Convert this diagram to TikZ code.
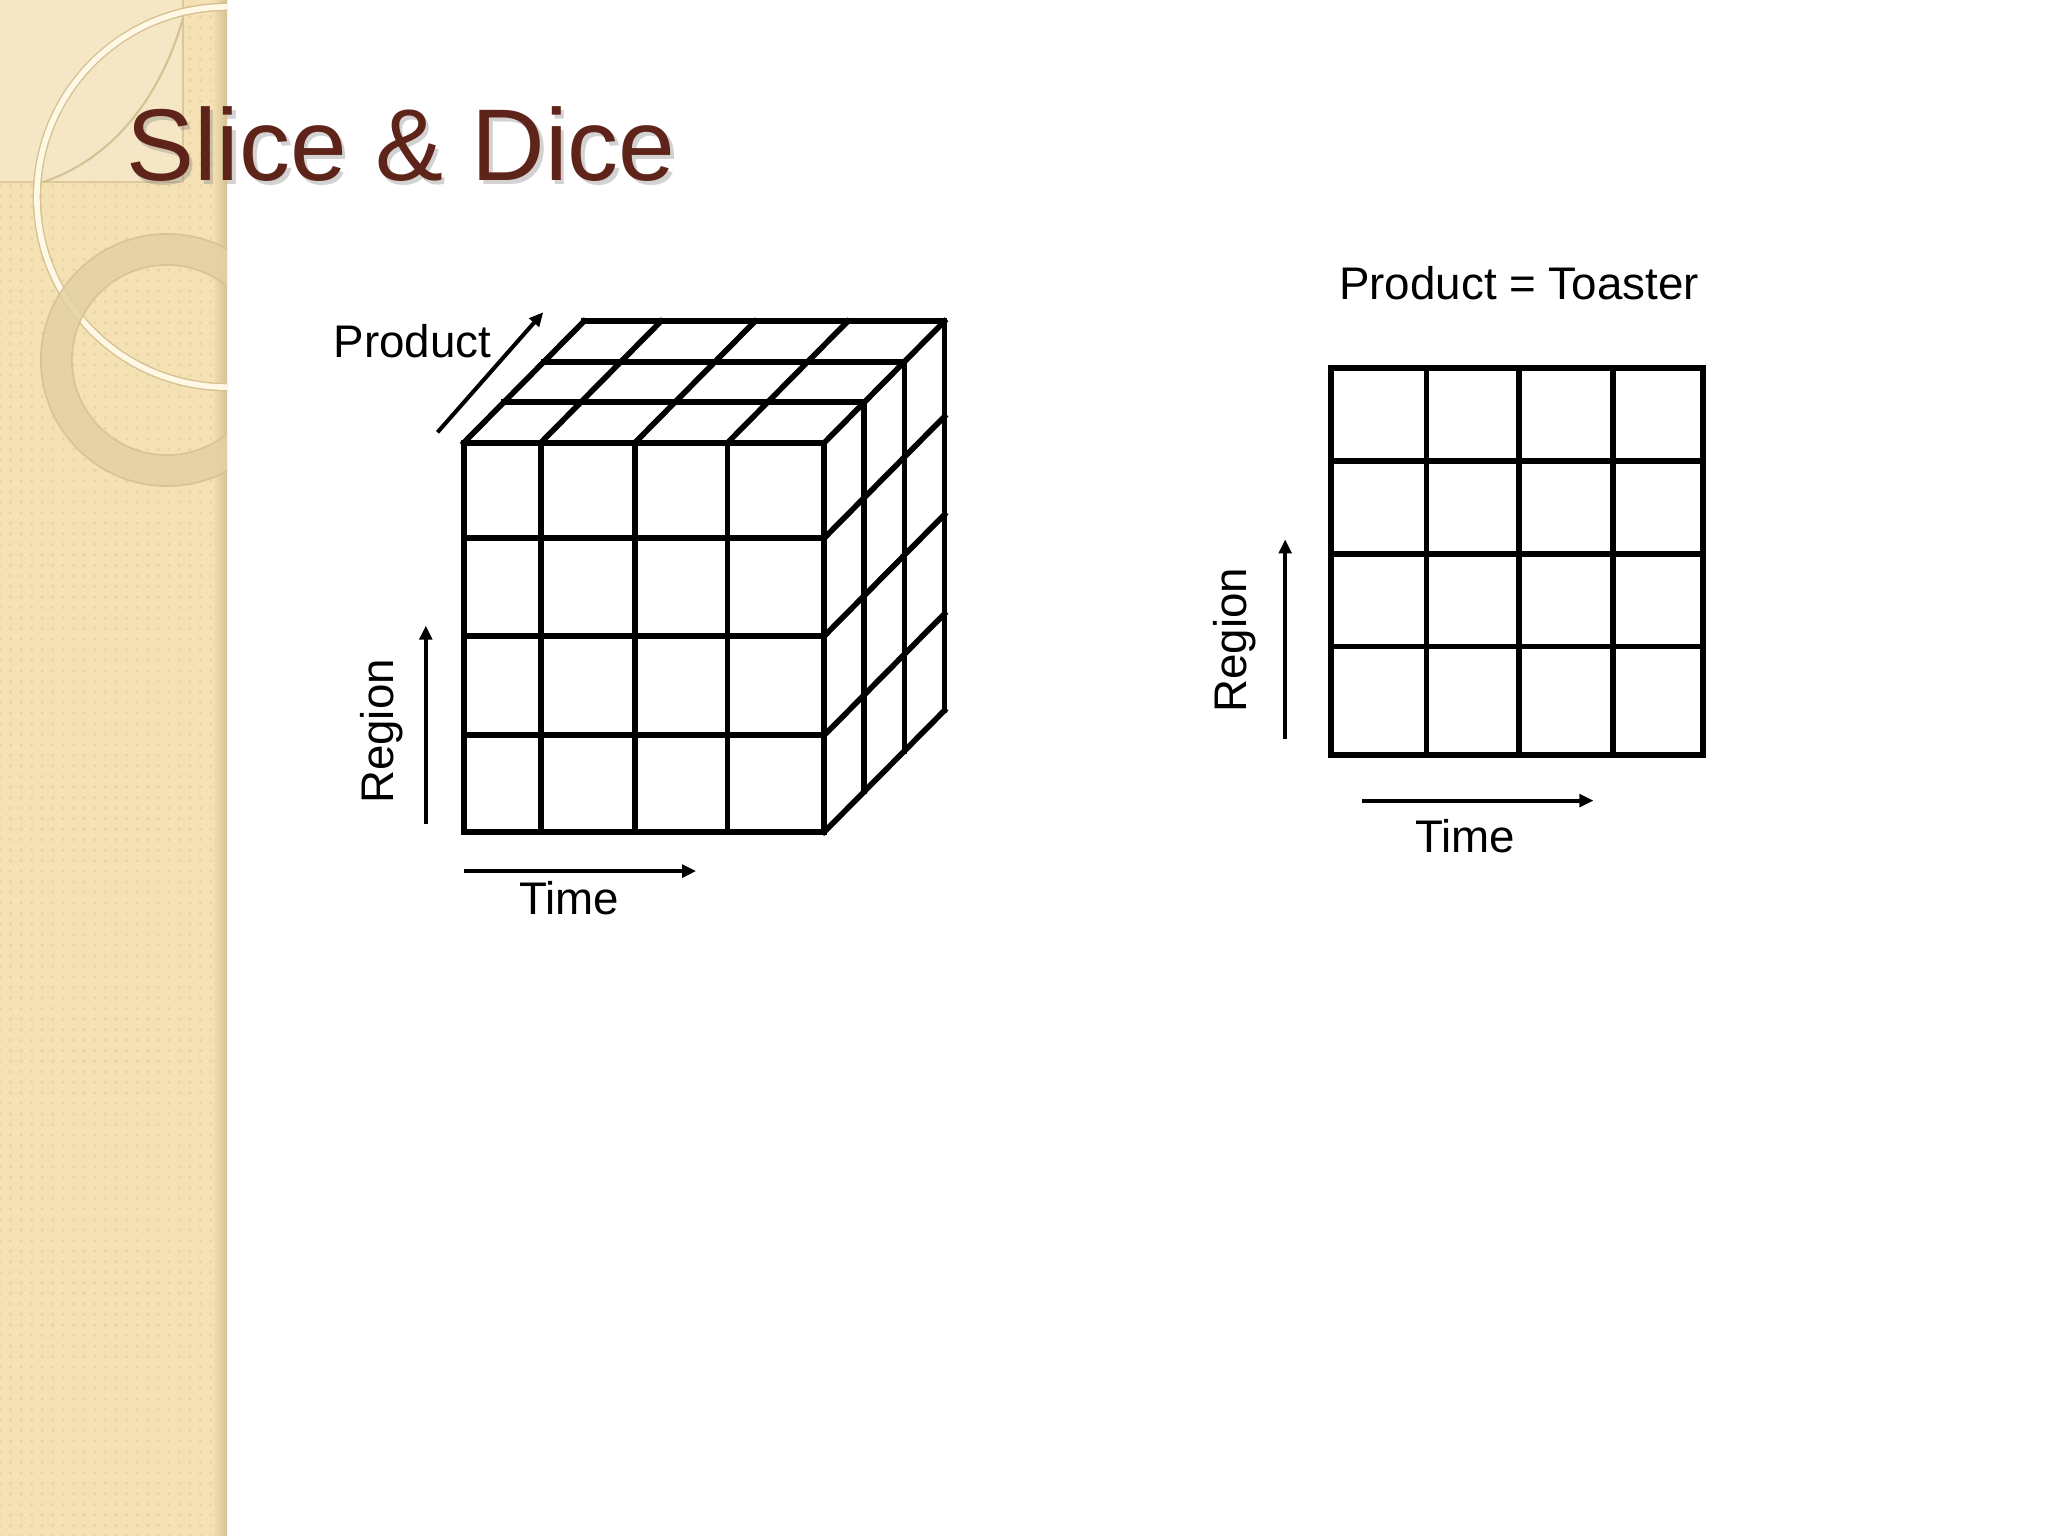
\documentclass[tikz,border=0pt]{standalone}
\usepackage{fontspec}
\setmainfont{Liberation Sans}
\usetikzlibrary{arrows.meta, positioning, calc, patterns}
\definecolor{Cocoa}{HTML}{5F2419}
\definecolor{Sand}{HTML}{F4E1B4}
\definecolor{SandLight}{HTML}{F6E9CB}
\definecolor{SandEdge}{HTML}{D6C192}
\definecolor{SandDot}{HTML}{E9D4A2}
\definecolor{Cream}{HTML}{FFF8E4}
\definecolor{RingTan}{HTML}{E4D1A3}

\begin{document}
\begin{tikzpicture}[
    x=0.01cm, y=-0.01cm,
    grid/.style={line width=1.6pt, line cap=rect},
    axis/.style={line width=1.15pt, -{Triangle[length=4pt, width=3.6pt]}},
    lbl/.style={font=\fontsize{13}{15}\selectfont, inner sep=0pt},
    headline/.style={font=\fontsize{29}{34}\selectfont, inner sep=0pt, anchor=base west}
]
    \useasboundingbox (0,0) rectangle (2048,1536);
    \fill[white] (0,0) rectangle (2048,1536);

    % Side panel
    \fill[Sand] (0,0) rectangle (227,1536);
    \fill[pattern=dots, pattern color=SandDot] (0,0) rectangle (227,1536);
    \shade[left color=Sand, right color=SandEdge] (212,0) rectangle (227,1536);
    \begin{scope}
        \clip (0,0) rectangle (227,1536);
        \filldraw[SandLight, draw=SandEdge, line width=0.5pt, opacity=0.8] (-5,-5) rectangle (183,182);
        \draw[SandEdge, line width=0.6pt] (183,18) .. controls (160,100) and (110,160) .. (43,182);
        \draw[SandEdge, line width=2.4pt] (227,197) circle (1.9cm);
        \draw[Cream, line width=1.6pt] (227,197) circle (1.9cm);
        \filldraw[RingTan, draw=SandEdge, line width=0.5pt, even odd rule, opacity=0.85]
            (167,360) circle (1.26cm) (167,360) circle (0.95cm);
    \end{scope}

    % Title
    \node[headline, text=gray, opacity=0.35] at (129,184) {Slice \& Dice};
    \node[headline, text=Cocoa] (title) at (125.4,180.2) {Slice \& Dice};

    % Cube front face
    \foreach \x in {463.7,540.7,634.8,727.5,824.2}
        \draw[grid] (\x,442.8) -- (\x,832);
    \foreach \y in {442.8,538.1,636.1,735.3,832}
        \draw[grid] (463.7,\y) -- (824.2,\y);

    % Cube top face
    \foreach \x in {463.7,540.7,634.8,727.5,824.2}
        \draw[grid] (\x,442.8) -- ++(120.2,-121.5);
    \foreach \k in {1,2,3}
        \draw[grid] ($(463.7,442.8)+\k*(40.07,-40.5)$) -- ++(360.5,0);

    % Cube right face
    \foreach \k in {1,2,3}
        \draw[grid] ($(824.2,442.8)+\k*(40.07,-40.5)$) -- ++(0,389.2);
    \foreach \y in {538.1,636.1,735.3,832}
        \draw[grid] (824.2,\y) -- ++(120.2,-121.5);

    % Cube axes
    \coordinate (prodA) at (437.5,432.3);
    \coordinate (prodB) at (543.3,312.2);
    \coordinate (regA) at (425.8,824.1);
    \coordinate (regB) at (425.8,625.6);
    \coordinate (timeA) at (463.7,871.1);
    \coordinate (timeB) at (696.1,871.1);
    \draw[axis] (prodA) -- (prodB);
    \draw[axis] (regA) -- (regB);
    \draw[axis] (timeA) -- (timeB);
    \node[lbl] (prodLbl) at (412.5,340.9) {Product};
    \node[lbl, rotate=90] (regLbl) at (382,731.4) {Region};
    \node[lbl] (timeLbl) at (569.4,898.6) {Time};

    % Slice
    \foreach \x in {1330.9,1426.3,1519,1613,1703.1}
        \draw[grid] (\x,368.3) -- (\x,754.9);
    \foreach \y in {368.3,461,553.8,646.5,754.9}
        \draw[grid] (1330.9,\y) -- (1703.1,\y);
    \node[lbl] (sliceLbl) at (1519,283.4) {Product = Toaster};

    % Slice axes
    \coordinate (sregA) at (1285.2,739.2);
    \coordinate (sregB) at (1285.2,539.4);
    \coordinate (stimeA) at (1362.3,800.6);
    \coordinate (stimeB) at (1593.4,800.6);
    \draw[axis] (sregA) -- (sregB);
    \draw[axis] (stimeA) -- (stimeB);
    \node[lbl, rotate=90] (sregLbl) at (1235,640) {Region};
    \node[lbl] (stimeLbl) at (1465.4,835.9) {Time};
\end{tikzpicture}
\end{document}
